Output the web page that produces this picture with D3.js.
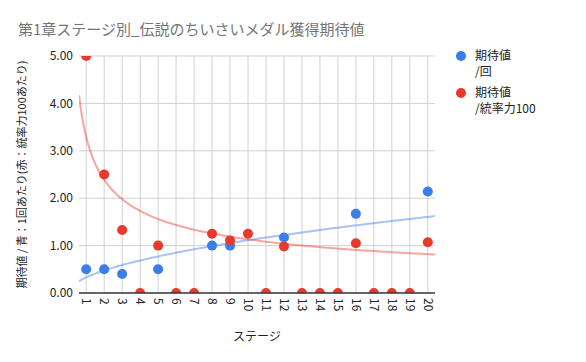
<!DOCTYPE html>
<html>
<head>
<meta charset="utf-8">
<script src="https://cdn.jsdelivr.net/npm/d3@7"></script>
<style>
  body { margin: 0; background: #fff; }
  text { font-family: "Noto Sans CJK JP", "Noto Sans", sans-serif; }
</style>
</head>
<body>
<div id="chart"></div>
<script>
// stages and the two series (null = no point)
const stages = d3.range(1, 21);
const perRun = [0.5, 0.5, 0.4, null, 0.5, null, null, 1.0, 1.0, null, null, 1.17, null, null, null, 1.67, null, null, null, 2.14];
const perLeadership = [5.0, 2.5, 1.33, 0, 1.0, 0, 0, 1.25, 1.11, 1.25, 0, 0.98, 0, 0, 0, 1.05, 0, 0, 0, 1.07];
const yTicks = [0, 1, 2, 3, 4, 5];
const seriesNames = [['期待値', '/回'], ['期待値', '/統率力100']];
const colors = ['#3b7de9', '#e8392c'];

const W = 586, H = 362;
const plot = {left: 79, right: 435, top: 56, bottom: 293};

const svg = d3.select('#chart').append('svg')
  .attr('width', W).attr('height', H);

const x = d3.scaleLinear().domain([0.6, 20.4]).range([plot.left, plot.right]);
const y = d3.scaleLinear().domain([0, 5]).range([plot.bottom, plot.top]);

svg.append('defs').append('clipPath').attr('id', 'clip')
  .append('rect')
    .attr('x', plot.left).attr('y', plot.top)
    .attr('width', plot.right - plot.left).attr('height', plot.bottom - plot.top);

// title
svg.append('text')
  .attr('x', 18).attr('y', 35)
  .attr('font-size', 15)
  .attr('fill', '#757575')
  .text('第1章ステージ別_伝説のちいさいメダル獲得期待値');

// grid
svg.append('g').selectAll('line').data(stages).join('line')
  .attr('x1', d => x(d)).attr('x2', d => x(d))
  .attr('y1', plot.top).attr('y2', plot.bottom)
  .attr('stroke', '#d0d0d0');
svg.append('g').selectAll('line').data(yTicks.slice(1)).join('line')
  .attr('x1', plot.left).attr('x2', plot.right)
  .attr('y1', d => y(d)).attr('y2', d => y(d))
  .attr('stroke', '#d0d0d0');

// y tick labels
svg.append('g').selectAll('text').data(yTicks).join('text')
  .attr('x', plot.left - 6).attr('y', d => y(d))
  .attr('dy', '0.35em')
  .attr('text-anchor', 'end')
  .attr('font-size', 12).attr('fill', '#222')
  .text(d => d3.format('.2f')(d));

// x tick labels, rotated
svg.append('g').selectAll('text').data(stages).join('text')
  .attr('transform', d => `translate(${x(d)},${plot.bottom + 5}) rotate(90)`)
  .attr('dy', '0.35em')
  .attr('font-size', 12).attr('fill', '#222')
  .text(d => d);

// axis titles
svg.append('text')
  .attr('transform', `translate(26,${(plot.top + plot.bottom) / 2}) rotate(-90)`)
  .attr('text-anchor', 'middle')
  .attr('font-size', 11).attr('fill', '#222')
  .text('期待値 / 青：1回あたり(赤：統率力100あたり)');
svg.append('text')
  .attr('x', 257).attr('y', 341)
  .attr('text-anchor', 'middle')
  .attr('font-size', 12).attr('fill', '#222')
  .text('ステージ');

// power trendline fit (like the spreadsheet), zeros skipped
function powerFit(xs, ys) {
  const pts = xs.map((v, i) => [v, ys[i]]).filter(p => p[1] != null && p[1] > 0);
  const lx = pts.map(p => Math.log(p[0])), ly = pts.map(p => Math.log(p[1]));
  const mx = d3.mean(lx), my = d3.mean(ly);
  const b = d3.sum(lx, (v, i) => (v - mx) * (ly[i] - my)) / d3.sum(lx, v => (v - mx) ** 2);
  const a = Math.exp(my - b * mx);
  return t => a * Math.pow(t, b);
}

const chartArea = svg.append('g').attr('clip-path', 'url(#clip)');
const line = d3.line().x(d => x(d[0])).y(d => y(d[1]));
const xs = d3.range(0.6, 20.41, 0.1);

[perRun, perLeadership].forEach((vals, i) => {
  const f = powerFit(stages, vals);
  chartArea.append('path')
    .attr('d', line(xs.map(t => [t, f(t)])))
    .attr('fill', 'none')
    .attr('stroke', colors[i])
    .attr('stroke-opacity', 0.45)
    .attr('stroke-width', 2);
});

// baseline
svg.append('line')
  .attr('x1', plot.left).attr('x2', plot.right)
  .attr('y1', plot.bottom).attr('y2', plot.bottom)
  .attr('stroke', '#333').attr('stroke-width', 1.5);

[perRun, perLeadership].forEach((vals, i) => {
  chartArea.append('g').selectAll('circle')
    .data(stages.map((s, k) => [s, vals[k]]).filter(d => d[1] != null))
    .join('circle')
      .attr('cx', d => x(d[0])).attr('cy', d => y(d[1]))
      .attr('r', 5)
      .attr('fill', colors[i]);
});

// legend
const legend = svg.append('g').attr('transform', 'translate(461,56)');
seriesNames.forEach((lines, i) => {
  const g = legend.append('g').attr('transform', `translate(0,${i * 37})`);
  g.append('circle').attr('r', 5).attr('fill', colors[i]);
  g.append('text')
    .attr('x', 14).attr('y', 0).attr('dy', '0.35em')
    .attr('font-size', 12).attr('fill', '#222')
    .selectAll('tspan').data(lines).join('tspan')
      .attr('x', 14).attr('dy', (d, k) => k === 0 ? '0.35em' : '1.3em')
      .text(d => d);
});
</script>
</body>
</html>
